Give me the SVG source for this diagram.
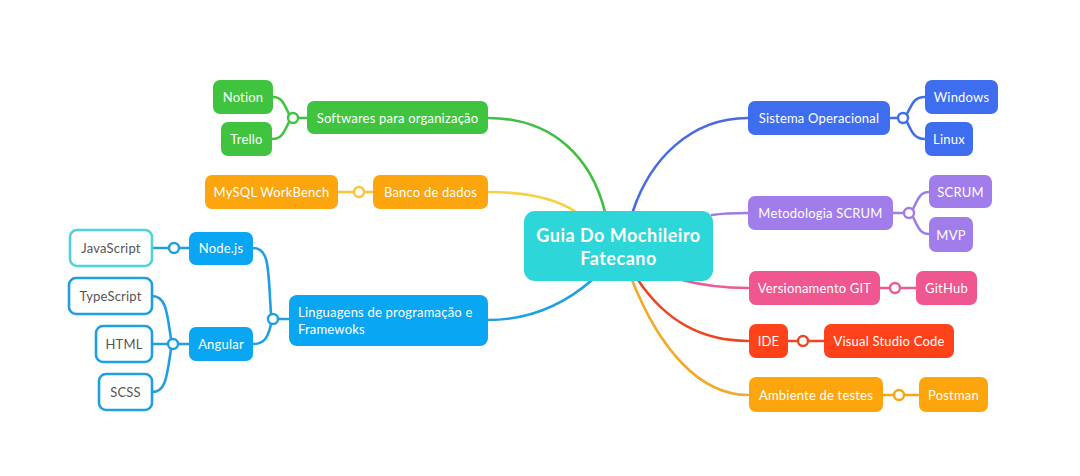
<svg xmlns="http://www.w3.org/2000/svg" width="1080" height="476" viewBox="0 0 1080 476">
<style>
text{font-family:Lato,"Open Sans","Liberation Sans",sans-serif;font-size:13px;letter-spacing:0.2px;fill:#fff;text-anchor:middle;dominant-baseline:central}
.c{fill:none;stroke-width:2.6;stroke-linecap:round}
.j{fill:#fff;stroke-width:2.4}
.w{fill:#fff;stroke-width:2.6}
.w text{fill:#555}
.t{font-size:18px;font-weight:bold;letter-spacing:0.5px}
</style>
<rect width="1080" height="476" fill="#fff"/>
<g id="connectors">
<path class="c" stroke="#40BF45" d="M488,118 C555,118 592,160 605,212"/>
<path class="c" stroke="#F7D046" d="M488,192 C530,192 558,200 576,212"/>
<path class="c" stroke="#1F9FE2" d="M592,280 C560,308 525,320 488,320"/>
<path class="c" stroke="#4A6BDE" d="M633,211 C650,160 690,118 748,118"/>
<path class="c" stroke="#A07CE8" d="M712,215 C725,213 735,213 748,213"/>
<path class="c" stroke="#EC5A93" d="M682,280 C705,286 725,288 748,288"/>
<path class="c" stroke="#EE4525" d="M638,280 C665,320 700,341 748,341"/>
<path class="c" stroke="#F2AA2A" d="M632,280 C660,350 700,395 748,395"/>
<path class="c" stroke="#40C43F" d="M298,118 H307 M289,114 C284,104 282,97 273,97 M289,122 C284,132 282,139 272,139"/>
<circle class="j" stroke="#40C43F" cx="293" cy="118" r="5"/>
<path class="c" stroke="#F9C33A" d="M338,192 H373"/>
<circle class="j" stroke="#F9C33A" cx="359" cy="192" r="5"/>
<path class="c" stroke="#1F9FE2" d="M278,319 H289 M271,314 C268,270 270,248 253,248 M271,324 C268,338 264,344 253,344"/>
<circle class="j" stroke="#1F9FE2" cx="273" cy="319" r="5"/>
<path class="c" stroke="#1F9FE2" d="M153,248 H189"/>
<circle class="j" stroke="#1F9FE2" cx="174" cy="248" r="5"/>
<path class="c" stroke="#1F9FE2" d="M178,344 H189 M171,339 C167,312 166,296 152,296 M168,344 H152 M171,349 C167,376 166,392 152,392"/>
<circle class="j" stroke="#1F9FE2" cx="173" cy="344" r="5"/>
<path class="c" stroke="#3F6DEF" d="M890,118 H898 M907,114 C912,104 914,97 925,97 M907,122 C912,132 914,139 925,139"/>
<circle class="j" stroke="#3F6DEF" cx="903" cy="118" r="5"/>
<path class="c" stroke="#A07CE8" d="M893,213 H904 M913,209 C918,199 920,192 929,192 M913,217 C918,227 920,234 929,234"/>
<circle class="j" stroke="#A07CE8" cx="909" cy="213" r="5"/>
<path class="c" stroke="#EC5A93" d="M880,288 H916"/>
<circle class="j" stroke="#EC5A93" cx="895" cy="288" r="5"/>
<path class="c" stroke="#EE4525" d="M788,341 H824"/>
<circle class="j" stroke="#EE4525" cx="803" cy="341" r="5"/>
<path class="c" stroke="#F8A516" d="M883,395 H919"/>
<circle class="j" stroke="#F8A516" cx="899" cy="395" r="5"/>
</g>

<g id="center">
<rect x="524" y="211" width="189" height="70" rx="11" fill="#2DD6D8"/>
<text class="t" x="618.5" y="235">Guia Do Mochileiro</text>
<text class="t" x="618.5" y="258">Fatecano</text>
</g>

<g id="softwares"><rect x="307" y="101" width="181" height="33" rx="7" fill="#40C43F"/><text x="397.5" y="117.5">Softwares para organização</text></g>
<g id="notion"><rect x="213" y="80" width="60" height="34" rx="7" fill="#40C43F"/><text x="243" y="97">Notion</text></g>
<g id="trello"><rect x="221" y="122" width="51" height="34" rx="7" fill="#40C43F"/><text x="246.5" y="139">Trello</text></g>

<g id="banco"><rect x="373" y="175" width="115" height="34" rx="7" fill="#FCA50D"/><text x="430.5" y="192">Banco de dados</text></g>
<g id="mysql"><rect x="205" y="175" width="133" height="34" rx="7" fill="#FCA50D"/><text x="271.5" y="192">MySQL WorkBench</text></g>

<g id="linguagens"><rect x="289" y="295" width="199" height="51" rx="8" fill="#09A6F3"/>
<text x="298" y="311.5" style="text-anchor:start">Linguagens de programação e</text>
<text x="298" y="329" style="text-anchor:start">Framewoks</text></g>
<g id="nodejs"><rect x="189" y="232" width="64" height="33" rx="7" fill="#09A6F3"/><text x="221" y="248">Node.js</text></g>
<g id="angular"><rect x="189" y="327" width="64" height="34" rx="7" fill="#09A6F3"/><text x="221" y="344">Angular</text></g>
<g id="javascript" class="w"><rect x="70" y="230" width="82" height="36" rx="7" stroke="#4FD2DA"/><text x="111" y="248">JavaScript</text></g>
<g id="typescript" class="w"><rect x="69" y="278" width="83" height="36" rx="7" stroke="#1F9FE2"/><text x="110.5" y="296">TypeScript</text></g>
<g id="html" class="w"><rect x="96" y="326" width="56" height="36" rx="7" stroke="#1F9FE2"/><text x="124" y="344">HTML</text></g>
<g id="scss" class="w"><rect x="99" y="374" width="53" height="36" rx="7" stroke="#1F9FE2"/><text x="125.5" y="392">SCSS</text></g>

<g id="sistema"><rect x="748" y="101" width="142" height="34" rx="7" fill="#3F6DEF"/><text x="819" y="118">Sistema Operacional</text></g>
<g id="windows"><rect x="925" y="80" width="73" height="34" rx="7" fill="#3F6DEF"/><text x="961.5" y="97">Windows</text></g>
<g id="linux"><rect x="925" y="122" width="48" height="34" rx="7" fill="#3F6DEF"/><text x="949" y="139">Linux</text></g>

<g id="metodologia"><rect x="748" y="196" width="145" height="34" rx="7" fill="#A17CEB"/><text x="820.5" y="213">Metodologia SCRUM</text></g>
<g id="scrum"><rect x="929" y="175" width="63" height="33" rx="7" fill="#A17CEB"/><text x="960.5" y="191.5">SCRUM</text></g>
<g id="mvp"><rect x="929" y="217" width="44" height="35" rx="7" fill="#A17CEB"/><text x="951" y="234.5">MVP</text></g>

<g id="versionamento"><rect x="749" y="271" width="131" height="34" rx="7" fill="#F0568F"/><text x="814.5" y="288">Versionamento GIT</text></g>
<g id="github"><rect x="916" y="271" width="61" height="34" rx="7" fill="#F0568F"/><text x="946.5" y="288">GitHub</text></g>

<g id="ide"><rect x="749" y="324" width="39" height="34" rx="7" fill="#FF4219"/><text x="768.5" y="341">IDE</text></g>
<g id="vscode"><rect x="824" y="324" width="130" height="34" rx="7" fill="#FF4219"/><text x="889" y="341">Visual Studio Code</text></g>

<g id="ambiente"><rect x="749" y="377" width="134" height="35" rx="7" fill="#FCA50D"/><text x="816" y="394.5">Ambiente de testes</text></g>
<g id="postman"><rect x="919" y="377" width="69" height="35" rx="7" fill="#FCA50D"/><text x="953.5" y="394.5">Postman</text></g>
</svg>
